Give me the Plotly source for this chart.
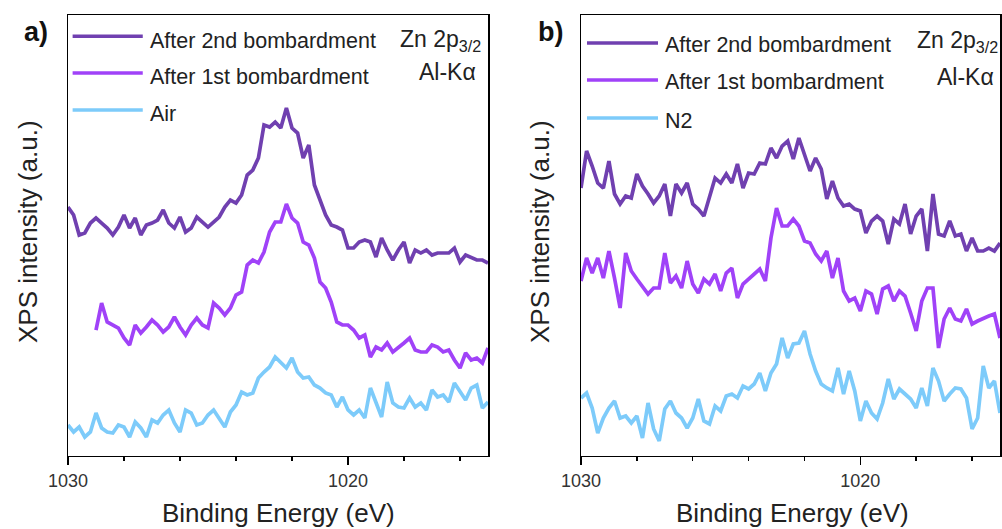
import numpy as np
import plotly.graph_objects as go

# ---------------- data ----------------
# Binding energy grids (eV), 0.2 eV steps
energy_full = np.round(np.arange(1030.0, 1014.99, -0.2), 1)
energy_a_1st = np.round(np.arange(1029.0, 1014.99, -0.2), 1)

# Panel a) intensities (a.u., offset-stacked)
a_2nd = [249, 241, 221, 223, 233, 238, 233, 228, 221, 229, 241, 228, 238, 221, 231, 233, 236, 246, 233, 228,
         239, 224, 228, 239, 234, 229, 234, 239, 249, 256, 253, 261, 281, 286, 298, 331, 329, 334,
         328, 348, 328, 323, 298, 311, 271, 256, 241, 231, 229, 226, 208, 208, 214, 216, 214, 199, 218, 206,
         196, 206, 214, 193, 206, 203, 206, 201, 203, 203, 203, 208, 194, 201, 198, 196, 196, 193]
a_1st = [126, 153, 134, 131, 128, 118, 111, 131, 123, 129, 136, 131, 124, 129, 139, 129, 121, 131, 138, 131,
         128, 153, 148, 141, 148, 161, 164, 191, 196, 193, 204, 224, 234,
         234, 252, 238, 233, 214, 211, 198, 174, 168, 154, 134, 131, 131, 126, 118, 121, 99, 109, 106, 113,
         104, 108, 113, 118, 106, 104, 104, 111, 109, 104, 106, 96, 88, 103, 96, 98, 93, 108]
a_air = [31, 24, 29, 19, 24, 43, 28, 24, 23, 31, 29, 19, 34, 28, 19, 36, 33, 41, 46, 33,
         24, 46, 43, 31, 33, 41, 46, 38, 29, 44, 51, 64, 61, 63, 78, 84, 89, 99,
         94, 88, 98, 84, 78, 79, 71, 68, 63, 61, 49, 59, 46, 41, 46, 38, 68, 54, 39, 74,
         53, 49, 48, 58, 49, 53, 46, 66, 59, 61, 54, 73, 64, 56, 68, 71, 48, 54]

# Panel b) intensities (a.u., offset-stacked)
b_2nd = [268, 305, 290, 273, 268, 295, 262, 252, 260, 258, 282, 270, 262, 253, 260, 272, 240, 272, 263, 273,
         252, 247, 240, 260, 278, 273, 282, 273, 292, 268, 283, 282, 293, 292, 308, 298, 310, 315,
         297, 318, 302, 285, 298, 287, 257, 275, 258, 250, 252, 247, 245, 223, 235, 240, 235, 212, 237, 232,
         252, 222, 240, 247, 205, 262, 222, 220, 235, 220, 222, 205, 218, 205, 205, 208, 205, 213]
b_1st = [175, 198, 183, 198, 178, 205, 178, 148, 203, 185, 177, 170, 162, 168, 168, 203, 173, 180, 168, 195,
         172, 163, 177, 172, 182, 165, 183, 188, 158, 172, 177, 183, 187, 175, 218, 248, 230, 230,
         237, 230, 215, 213, 202, 195, 205, 178, 198, 165, 155, 158, 145, 165, 162, 142, 167, 170, 155, 165,
         160, 143, 125, 155, 168, 168, 108, 137, 148, 137, 135, 147, 132, 135, 138, 140, 142, 118]
b_n2 = [58, 63, 48, 23, 38, 48, 55, 38, 40, 33, 40, 18, 53, 27, 15, 47, 55, 43, 38, 28,
        38, 57, 35, 32, 50, 45, 60, 62, 58, 70, 67, 72, 83, 65, 83, 92, 118, 98,
        112, 113, 125, 102, 85, 72, 68, 65, 88, 62, 85, 65, 35, 55, 43, 37, 53, 77, 57, 67,
        62, 57, 48, 68, 50, 88, 75, 55, 62, 68, 67, 58, 27, 38, 90, 68, 75, 43]

names_a = ["After 2nd bombardment", "After 1st bombardment", "Air"]
names_b = ["After 2nd bombardment", "After 1st bombardment", "N2"]
colors = ["#7040B0", "#A042F8", "#7DCBFA"]
x_tickvals = [1030, 1020]

# ---------------- figure ----------------
FONT = "Liberation Sans, Arial, sans-serif"
fig = go.Figure()

series_a = [(energy_full, a_2nd), (energy_a_1st, a_1st), (energy_full, a_air)]
series_b = [(energy_full, b_2nd), (energy_full, b_1st), (energy_full, b_n2)]

for i, (xs, ys) in enumerate(series_a):
    fig.add_trace(go.Scatter(x=xs, y=ys, mode="lines", name=names_a[i], showlegend=False,
                             line=dict(color=colors[i], width=3.7), xaxis="x", yaxis="y"))
for i, (xs, ys) in enumerate(series_b):
    fig.add_trace(go.Scatter(x=xs, y=ys, mode="lines", name=names_b[i], showlegend=False,
                             line=dict(color=colors[i], width=3.7), xaxis="x2", yaxis="y2"))

ydom = [0.138, 0.9716]
common_x = dict(range=[1030, 1015], showline=True, mirror=True, linecolor="black", linewidth=1.5,
                ticks="outside", ticklen=8, tickwidth=1.5, tickcolor="black",
                tickmode="array", tickvals=x_tickvals, automargin=False,
                tickfont=dict(family=FONT, size=18, color="#333333"),
                minor=dict(tickmode="linear", tick0=1030, dtick=2, ticks="outside", ticklen=4,
                           tickwidth=1.5, tickcolor="black", showgrid=False),
                showgrid=False, zeroline=False)
common_y = dict(range=[0, 441], showline=True, mirror=True, linecolor="black", linewidth=1.5,
                showticklabels=False, ticks="", showgrid=False, zeroline=False, domain=ydom,
                automargin=False)

fig.update_layout(
    width=1002, height=529, autosize=False,
    margin=dict(l=0, r=0, t=0, b=0, pad=0, autoexpand=False),
    paper_bgcolor="white", plot_bgcolor="white",
    showlegend=False,
    font=dict(family=FONT, color="#222222"),
    xaxis=dict(domain=[68 / 1002, 488 / 1002], anchor="y", **common_x),
    yaxis=dict(anchor="x", **common_y),
    xaxis2=dict(domain=[581 / 1002, 1000 / 1002], anchor="y2", **common_x),
    yaxis2=dict(anchor="x2", **common_y),
)

shapes = []
annots = []

# legends (manual, to match long sample lines)
leg_a = dict(x0=0.011, x1=0.178, tx=0.1905, ly=[0.9517, 0.8685, 0.7846], ty=[0.941, 0.859, 0.7755])
leg_b = dict(x0=0.0143, x1=0.1838, tx=0.1957, ly=[0.9365, 0.8526, 0.7664], ty=[0.932, 0.848, 0.760])
for xref, yref, leg, names in [("x domain", "y domain", leg_a, names_a),
                               ("x2 domain", "y2 domain", leg_b, names_b)]:
    for i in range(3):
        shapes.append(dict(type="line", xref=xref, yref=yref, x0=leg["x0"], x1=leg["x1"],
                           y0=leg["ly"][i], y1=leg["ly"][i],
                           line=dict(color=colors[i], width=3.5)))
        annots.append(dict(xref=xref, yref=yref, x=leg["tx"], y=leg["ty"][i], text=names[i],
                           showarrow=False, xanchor="left", yanchor="middle",
                           font=dict(family=FONT, size=21.5, color="#222222")))

# Zn 2p3/2 and Al-Ka labels
for xref, yref, zx, zy, kx, ky in [("x domain", "y domain", 0.786, 0.943, 0.831, 0.871),
                                   ("x2 domain", "y2 domain", 0.797, 0.939, 0.845, 0.859)]:
    annots.append(dict(xref=xref, yref=yref, x=zx, y=zy, text="Zn 2p<sub>3/2</sub>",
                       showarrow=False, xanchor="left", yanchor="middle",
                       font=dict(family=FONT, size=23, color="#222222")))
    annots.append(dict(xref=xref, yref=yref, x=kx, y=ky, text="Al-K\u03b1",
                       showarrow=False, xanchor="left", yanchor="middle",
                       font=dict(family=FONT, size=23, color="#222222")))

# panel labels
annots.append(dict(xref="paper", yref="paper", x=36 / 1002, y=(529 - 32) / 529, text="<b>a)</b>",
                   showarrow=False, xanchor="center", yanchor="middle",
                   font=dict(family=FONT, size=27, color="#111111")))
annots.append(dict(xref="paper", yref="paper", x=550 / 1002, y=(529 - 32) / 529, text="<b>b)</b>",
                   showarrow=False, xanchor="center", yanchor="middle",
                   font=dict(family=FONT, size=27, color="#111111")))

# axis titles
for cx in [28, 540]:
    annots.append(dict(xref="paper", yref="paper", x=cx / 1002, y=(529 - 232) / 529,
                       text="XPS intensity (a.u.)", textangle=-90, showarrow=False,
                       xanchor="center", yanchor="middle",
                       font=dict(family=FONT, size=26, color="#222222")))
for cx in [278, 792]:
    annots.append(dict(xref="paper", yref="paper", x=cx / 1002, y=(529 - 513) / 529,
                       text="Binding Energy (eV)", showarrow=False,
                       xanchor="center", yanchor="middle",
                       font=dict(family=FONT, size=26, color="#222222")))

fig.update_layout(shapes=shapes, annotations=annots)
fig.write_html("out.html",
               config=dict(displayModeBar=False, staticPlot=True),
               post_script="document.body.style.margin='0px';document.body.style.overflow='hidden';"
                           "window.dispatchEvent(new Event('resize'));")
